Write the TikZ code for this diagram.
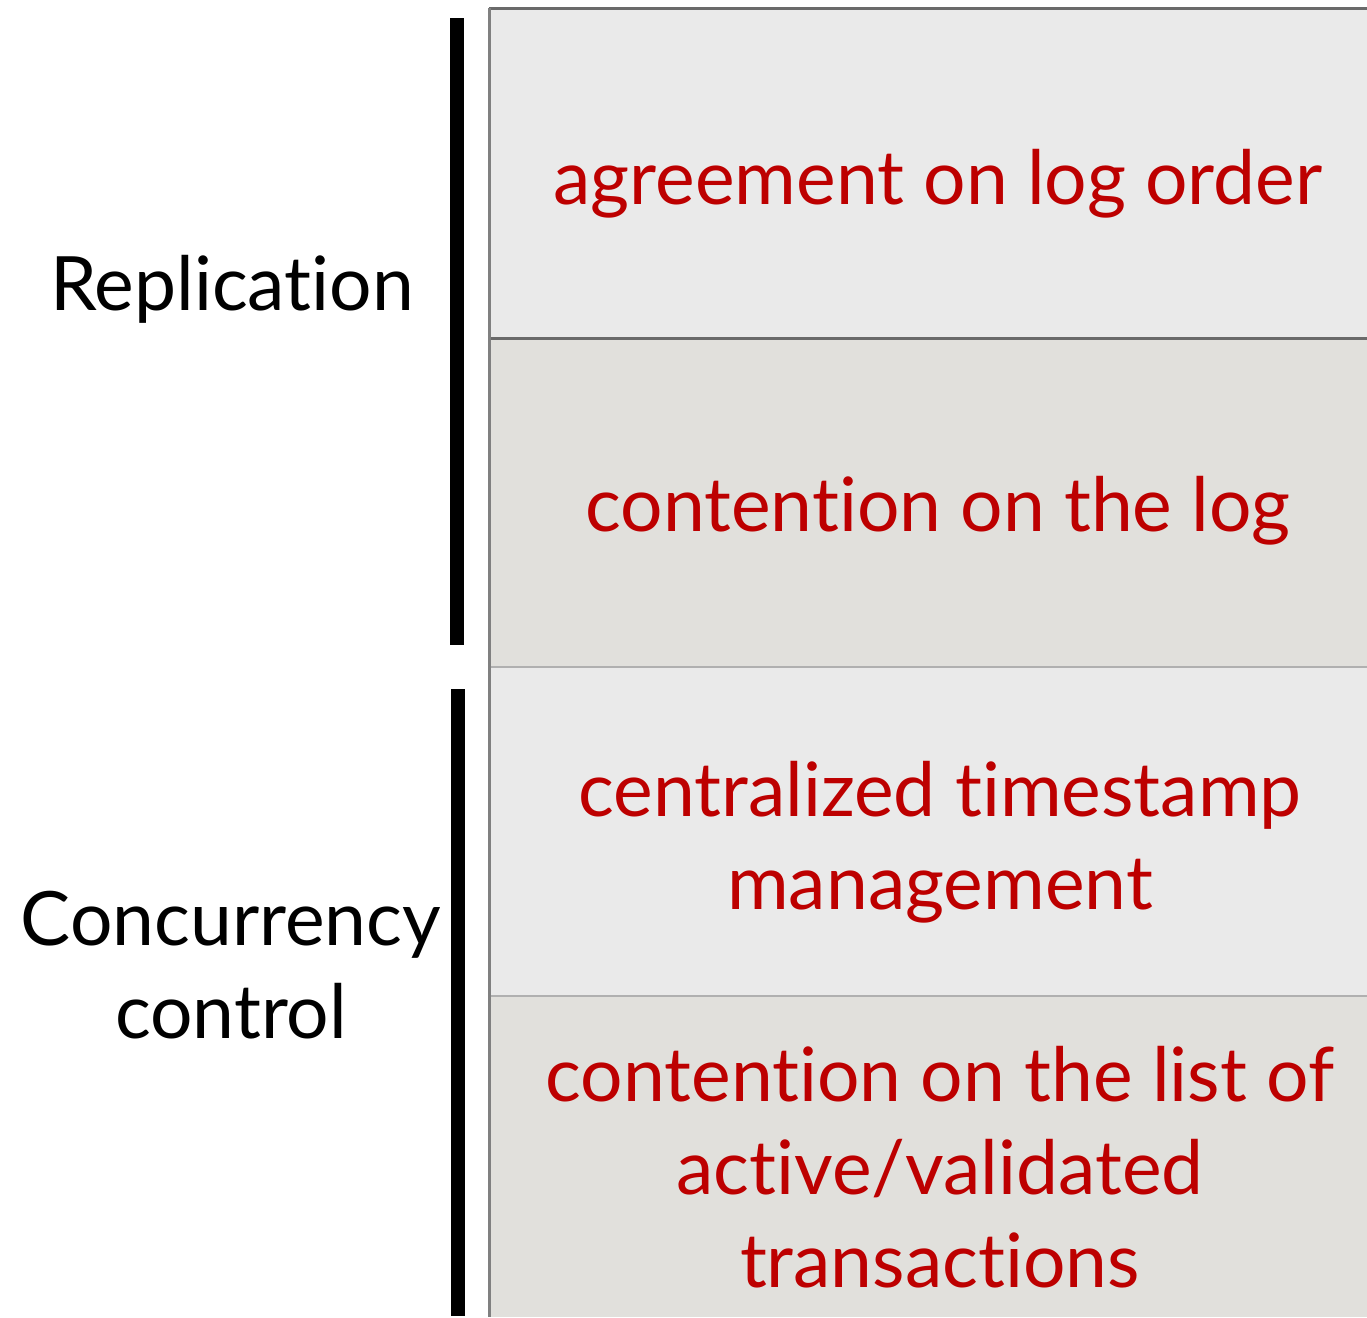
\documentclass[tikz,border=0pt]{standalone}
\usepackage{fontspec}
\setmainfont{Lato}[Ligatures={NoCommon,NoRare,NoContextual}]
\definecolor{rowA}{HTML}{EAEAEA}
\definecolor{rowB}{HTML}{E1E0DC}
\definecolor{txtred}{HTML}{BD0000}
\definecolor{lineDark}{HTML}{6A6A6A}
\definecolor{lineLight}{HTML}{B0B0B0}
\begin{document}
\begin{tikzpicture}[x=1pt,y=-1pt,
  celltext/.style={text=txtred,font=\fontsize{75}{93}\selectfont,align=center,inner sep=0pt},
  sidetext/.style={text=black,font=\fontsize{75}{93}\selectfont,align=center,inner sep=0pt},
  bar/.style={line width=14pt}]
\useasboundingbox (0,0) rectangle (1367,1317);
\fill[rowA] (489,8) rectangle (1367,338);
\fill[rowB] (489,338) rectangle (1367,667);
\fill[rowA] (489,667) rectangle (1367,996);
\fill[rowB] (489,996) rectangle (1367,1317);
\draw[lineDark,line width=3pt] (489,8) -- (1367,8);
\draw[lineDark,line width=3pt] (489,338) -- (1367,338);
\draw[lineLight,line width=2.5pt] (489,667) -- (1367,667);
\draw[lineLight,line width=2.5pt] (489,996) -- (1367,996);
\draw[gray,line width=3pt] (489.5,8) -- (489.5,1317);
\draw[bar] (457,18) -- (457,645);
\draw[bar] (458,689) -- (458,1316);
\node[celltext] (c1) at (938,184) {agreement on log order};
\node[celltext] (c2) at (938,511) {contention on the log};
\node[celltext] (c3) at (940,842) {centralized timestamp\\management};
\node[celltext] (c4) at (940,1167) {contention on the list of\\active/validated\\transactions};
\node[sidetext] (s1) at (232,289) {Replication};
\node[sidetext] (s2) at (231,965) {Concurrency\\control};
\end{tikzpicture}
\end{document}
